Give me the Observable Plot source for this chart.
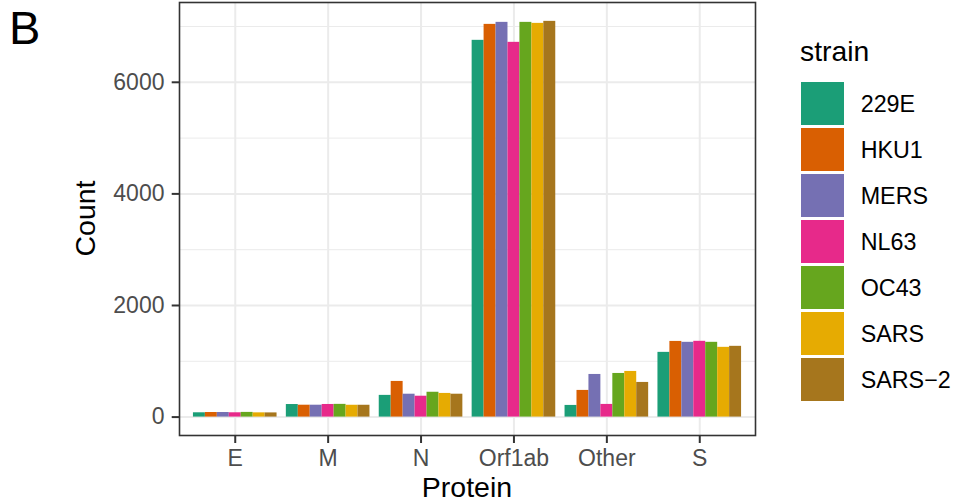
<!DOCTYPE html>
<html>
<head>
<meta charset="utf-8">
<script src="https://cdn.jsdelivr.net/npm/d3@7"></script>
<script src="https://cdn.jsdelivr.net/npm/@observablehq/plot@0.6"></script>
<style>
  html, body { margin: 0; padding: 0; background: #ffffff; }
  #chart { width: 956px; height: 502px; }
</style>
</head>
<body>
<div id="chart"></div>
<script>
// ---- data ----
const proteins = ["E", "M", "N", "Orf1ab", "Other", "S"];
const strains = ["229E", "HKU1", "MERS", "NL63", "OC43", "SARS", "SARS\u22122"];
const countE      = [77, 82, 82, 77, 84, 76, 75];
const countM      = [225, 213, 213, 226, 228, 212, 212];
const countN      = [389, 639, 410, 374, 445, 424, 410];
const countOrf1ab = [6752, 7038, 7074, 6716, 7074, 7056, 7092];
const countOther  = [209, 478, 764, 227, 782, 818, 621];
const countS      = [1160, 1356, 1340, 1358, 1340, 1250, 1268];
const yTicks = [0, 2000, 4000, 6000];
const yMinor = [1000, 3000, 5000, 7000];
const palette = ["#1B9E77", "#D95F02", "#7570B3", "#E7298A", "#66A61E", "#E6AB02", "#A6761D"];

const series = [countE, countM, countN, countOrf1ab, countOther, countS];
const dodge = 0.9;                       // total group width (in band units)
const bw = dodge / strains.length;       // width of one bar
const data = [];
proteins.forEach((p, i) => {
  strains.forEach((s, j) => {
    const x1 = (i + 1) - dodge / 2 + j * bw;
    data.push({protein: p, strain: s, count: series[i][j], x1, x2: x1 + bw});
  });
});
const proteinPos = proteins.map((p, i) => i + 1);

const FONT = "'Liberation Sans', Arial, Helvetica, sans-serif";

const plot = Plot.plot({
  width: 956,
  height: 502,
  marginLeft: 179,
  marginRight: 201,
  marginTop: 2,
  marginBottom: 67,
  style: {fontFamily: FONT, fontSize: "23px", background: "#ffffff", color: "#4d4d4d", overflow: "visible"},
  x: {domain: [0.4, 6.6], axis: null},
  y: {domain: [-330, 7430], axis: null},
  color: {domain: strains, range: palette},
  marks: [
    Plot.ruleY(yMinor, {stroke: "#EBEBEB", strokeWidth: 1}),
    Plot.ruleY(yTicks, {stroke: "#EBEBEB", strokeWidth: 2}),
    Plot.ruleX(proteinPos, {stroke: "#EBEBEB", strokeWidth: 2}),
    Plot.rectY(data, {x1: "x1", x2: "x2", y: "count", fill: "strain"}),
    Plot.frame({stroke: "#333333", strokeWidth: 1.6}),
    Plot.axisY({
      ticks: yTicks, tickFormat: d => String(d), tickSize: 7.3, tickPadding: 7.7,
      stroke: "#333333", strokeWidth: 2, fill: "#4d4d4d", fontSize: 23, label: null
    }),
    Plot.axisX({
      ticks: proteinPos, tickFormat: i => proteins[i - 1], tickSize: 8, tickPadding: 6.5,
      stroke: "#333333", strokeWidth: 2, fill: "#4d4d4d", fontSize: 23, label: null
    })
  ]
});

document.getElementById("chart").appendChild(plot);

// ---- titles and legend ----
const svg = d3.select(plot);
const g = svg.append("g").attr("font-family", FONT).attr("text-anchor", "start");

g.append("text").text("B")
  .attr("x", 9).attr("y", 44).attr("font-size", 47).attr("fill", "#000")
  .attr("text-anchor", "start");

g.append("text").text("Count")
  .attr("transform", "translate(95,218.5) rotate(-90)")
  .attr("text-anchor", "middle").attr("font-size", 28.5).attr("fill", "#000");

g.append("text").text("Protein")
  .attr("x", 467).attr("y", 497)
  .attr("text-anchor", "middle").attr("font-size", 28.5).attr("fill", "#000");

const color = plot.scale("color");
const leg = g.append("g").attr("text-anchor", "start");
leg.append("text").text("strain")
  .attr("x", 800).attr("y", 60.7).attr("font-size", 28.3).attr("fill", "#000")
  .attr("text-anchor", "start");
strains.forEach((s, i) => {
  leg.append("rect")
    .attr("x", 801).attr("y", 82 + 46 * i).attr("width", 43).attr("height", 43)
    .attr("fill", palette[color.domain.indexOf(s)]);
  leg.append("text").text(s)
    .attr("x", 860.7).attr("y", 111.7 + 46 * i)
    .attr("font-size", 23.3).attr("fill", "#000")
    .attr("text-anchor", "start");
});
</script>
</body>
</html>
